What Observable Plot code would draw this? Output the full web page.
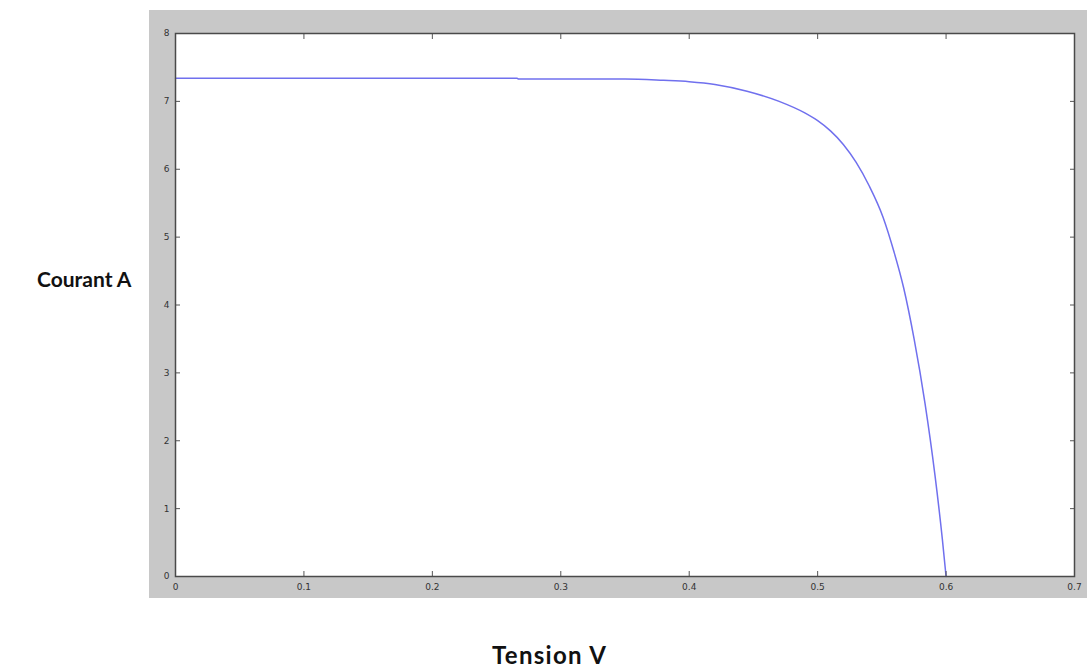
<!DOCTYPE html>
<html>
<head>
<meta charset="utf-8">
<script src="https://cdn.jsdelivr.net/npm/d3@7"></script>
<script src="https://cdn.jsdelivr.net/npm/@observablehq/plot@0.6"></script>
<style>
  html, body { margin: 0; padding: 0; background: #ffffff; }
  #wrap { position: relative; width: 1087px; height: 670px; overflow: hidden; }
  #panel { position: absolute; left: 149px; top: 10px; width: 938px; height: 588px; background: #c8c8c8; }
  #chart { position: absolute; left: 0; top: 0; }
  .lab { position: absolute; font-family: Lato, "Open Sans", sans-serif; font-weight: bold; color: #111; white-space: nowrap; }
  #ylab { left: 37px; top: 266px; font-size: 21px; }
  #xlab { left: 492px; top: 640px; font-size: 24px; letter-spacing: 1.3px; }
</style>
</head>
<body>
<div id="wrap">
  <div id="panel"></div>
  <div id="chart"></div>
  <div class="lab" id="ylab">Courant A</div>
  <div class="lab" id="xlab">Tension V</div>
</div>
<script>
// Tension (V) and courant (A)
const tension = [0, 0.10, 0.20, 0.266, 0.267, 0.35, 0.38, 0.40, 0.42, 0.445, 0.47, 0.49, 0.50, 0.51, 0.52, 0.53, 0.54, 0.551, 0.5595, 0.567, 0.5751, 0.5836, 0.5913, 0.5971, 0.600];
const courant = [7.34, 7.34, 7.34, 7.34, 7.33, 7.33, 7.31, 7.29, 7.25, 7.15, 7.00, 6.83, 6.715, 6.565, 6.365, 6.10, 5.76, 5.29, 4.78, 4.25, 3.50, 2.55, 1.50, 0.55, 0];
const xTicks = [0, 0.1, 0.2, 0.3, 0.4, 0.5, 0.6, 0.7];
const yTicks = [0, 1, 2, 3, 4, 5, 6, 7, 8];

const data = tension.map((v, i) => ({ v, i: courant[i] }));
const tickFont = { fontSize: 9, fontFamily: "DejaVu Sans, sans-serif", fill: "#333" };

const chart = Plot.plot({
  width: 1087,
  height: 670,
  marginLeft: 175,
  marginRight: 13,
  marginTop: 33,
  marginBottom: 94,
  style: { background: "transparent", overflow: "visible" },
  x: { domain: [0, 0.7] },
  y: { domain: [0, 8] },
  marks: [
    Plot.frame({ fill: "white", stroke: "none" }),
    Plot.line(data, { x: "v", y: "i", stroke: "#7070ee", strokeWidth: 1.5, curve: "monotone-x" }),
    // inward ticks on all four sides
    Plot.axisX(xTicks, { anchor: "bottom", tickSize: -5, tickFormat: () => "", stroke: "#555", label: null }),
    Plot.axisX(xTicks, { anchor: "top", tickSize: -5, tickFormat: () => "", stroke: "#555", label: null }),
    Plot.axisY(yTicks, { anchor: "left", tickSize: -5, tickFormat: () => "", stroke: "#555", label: null }),
    Plot.axisY(yTicks, { anchor: "right", tickSize: -5, tickFormat: () => "", stroke: "#555", label: null }),
    // tick labels
    Plot.axisX(xTicks, { anchor: "bottom", tickSize: 0, tickPadding: 7, tickFormat: d => d === 0 ? "0" : String(d), label: null, ...tickFont }),
    Plot.axisY(yTicks, { anchor: "left", tickSize: 0, tickPadding: 6, tickFormat: d => String(d), label: null, ...tickFont }),
    Plot.frame({ stroke: "#4a4a4a", strokeWidth: 1.5 })
  ]
});
document.getElementById("chart").appendChild(chart);
</script>
</body>
</html>
